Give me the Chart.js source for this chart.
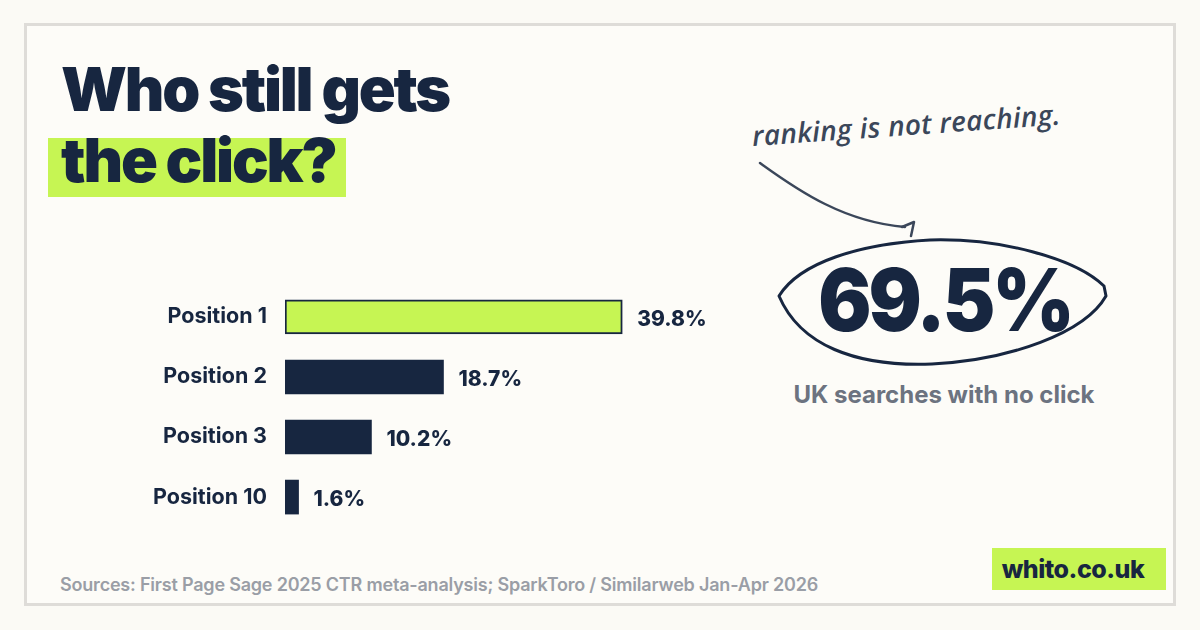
<!DOCTYPE html>
<html>
<head>
<meta charset="utf-8">
<script src="https://cdn.jsdelivr.net/npm/chart.js@4"></script>
<style>
  html, body { margin: 0; padding: 0; }
  body { width: 1200px; height: 630px; background: #fbfaf5; position: relative; overflow: hidden; font-family: "Inter", sans-serif; color: #172640; }
  .frame { position: absolute; left: 24px; top: 23px; width: 1146px; height: 577px; border: 3px solid #dedcd8; background: #fdfcf8; }
  .title { position: absolute; left: 61px; font-weight: 900; font-size: 61px; letter-spacing: -2.2px; line-height: 1; white-space: nowrap; }
  .hl { position: absolute; left: 48px; top: 138px; width: 298px; height: 59px; background: #c6f553; }
  .note { position: absolute; left: 752px; top: 116px; font-family: "Open Sans", sans-serif; font-style: italic; font-weight: 600; font-size: 28px; color: #3b475a; transform: rotate(-4deg); transform-origin: left center; white-space: nowrap; letter-spacing: 0.3px; }
  .big { position: absolute; left: 0; width: 1890px; text-align: center; top: 260px; font-weight: 900; font-size: 79px; letter-spacing: -3px; line-height: 1; transform: scaleY(1.1); }
  .sub { position: absolute; left: 744px; width: 400px; text-align: center; top: 380px; font-weight: 700; font-size: 24px; color: #6c7380; }
  .src { position: absolute; left: 60px; top: 574px; font-weight: 600; font-size: 18px; color: #9a9ea6; white-space: nowrap; letter-spacing: -0.2px; }
  .site { position: absolute; left: 992px; top: 548px; width: 174px; height: 42px; background: #c6f553; font-weight: 800; font-size: 25px; line-height: 42px; text-align: center; color: #172640; letter-spacing: -0.5px; }
  .site span { position: relative; left: -6px; }
  #ctr { position: absolute; left: 130px; top: 264px; }
  svg { position: absolute; left: 0; top: 0; }
</style>
</head>
<body>
<div class="frame"></div>
<div class="title" style="top: 59px;">Who still gets</div>
<div class="hl"></div>
<div class="title" style="top: 130px;">the click?</div>

<div class="note">ranking is not reaching.</div>
<svg width="1200" height="630">
  <path d="M 760 163 C 800 192, 845 222, 905 227" fill="none" stroke="#3b475a" stroke-width="2.5" stroke-linecap="round"/>
  <path d="M 902 227 L 914 222 L 911 236" fill="none" stroke="#3b475a" stroke-width="2.5" stroke-linecap="round" stroke-linejoin="round"/>
  <path d="M 779 296 C 800 262, 860 244, 930 240 C 1000 238, 1075 258, 1104 286 L 1106 296 C 1085 333, 1010 360, 932 364 C 855 367, 800 345, 779 296 Z"
        fill="none" stroke="#172640" stroke-width="3" stroke-linejoin="round"/>
</svg>
<div class="big">69.5%</div>
<div class="sub">UK searches with no click</div>

<canvas id="ctr" width="640" height="286"></canvas>

<div class="src">Sources: First Page Sage 2025 CTR meta-analysis; SparkToro / Similarweb Jan-Apr 2026</div>
<div class="site"><span>whito.co.uk</span></div>

<script>
const positions = ['Position 1', 'Position 2', 'Position 3', 'Position 10'];
const ctrValues = [39.8, 18.7, 10.2, 1.6];
const barColors = ['#c6f553', '#172640', '#172640', '#172640'];

// value labels next to each bar
const valueLabels = {
  id: 'valueLabels',
  afterDatasetsDraw(chart) {
    const ctx = chart.ctx;
    const meta = chart.getDatasetMeta(0);
    ctx.save();
    ctx.font = '800 21px Inter';
    ctx.fillStyle = '#172640';
    ctx.textBaseline = 'middle';
    meta.data.forEach((bar, i) => {
      ctx.fillText(ctrValues[i].toFixed(1) + '%', bar.x + 15, bar.y + 3);
    });
    ctx.restore();
  }
};

new Chart(document.getElementById('ctr'), {
  type: 'bar',
  data: {
    labels: positions,
    datasets: [{
      data: ctrValues,
      backgroundColor: barColors,
      borderColor: '#172640',
      borderWidth: ctrValues.map((v, i) => i === 0 ? 2 : 0),
      borderSkipped: false,
      barThickness: 34
    }]
  },
  options: {
    indexAxis: 'y',
    responsive: false,
    animation: false,
    layout: { padding: { top: 0, bottom: 0, left: 0, right: 146 } },
    plugins: { legend: { display: false }, tooltip: { enabled: false } },
    scales: {
      x: { display: false, min: 0, max: 40 },
      y: {
        grid: { display: false },
        border: { display: false },
        afterFit: (scale) => { scale.width = 155; },
        ticks: { color: '#172640', padding: 10, font: { family: 'Inter', size: 21.5, weight: '700' } }
      }
    }
  },
  plugins: [valueLabels]
});
</script>
</body>
</html>
